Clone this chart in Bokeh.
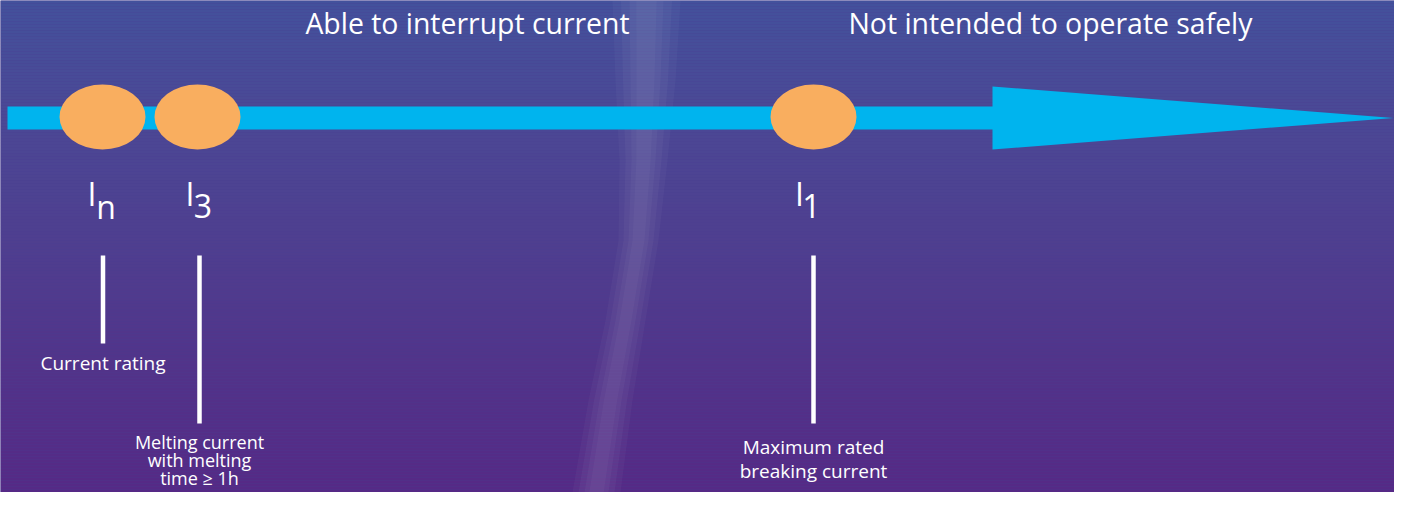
from bokeh.plotting import figure
from bokeh.models import Range1d
from bokeh.core.properties import value
from bokeh.embed import file_html
from bokeh.resources import INLINE

# ---------------- data ----------------
region_labels = ["Able to interrupt current", "Not intended to operate safely"]
region_x = [467, 1050]

point_main = ["I", "I", "I"]
point_sub = ["n", "3", "1"]
point_x = [102, 197, 813]          # position of each current on the arrow
main_x = [91.5, 189.5, 799]        # label placement
sub_x = [105.5, 202.5, 811]
line_x = [102.5, 199, 813]
line_end = [343, 423, 423]

descriptions = [
    ["Current rating"],
    ["Melting current", "with melting", "time \u2265 1h"],
    ["Maximum rated", "breaking current"],
]
desc_baselines = [
    [371],
    [449, 467, 485],
    [455, 479],
]
desc_sizes = [19, 18, 19]

FONT = "Open Sans"
W, H = 1394, 492

# ---------------- figure ----------------
p = figure(width=W, height=H, x_range=Range1d(0, W), y_range=Range1d(H, 0),
           output_backend="svg", toolbar_location=None, min_border=0,
           x_axis_location=None, y_axis_location=None)
p.grid.visible = False
p.outline_line_color = None
p.background_fill_color = "#4b3f90"
p.border_fill_color = "#4b3f90"

# background gradient
stops = [(0, (67, 81, 156)), (120, (75, 72, 149)), (250, (79, 62, 143)),
         (380, (82, 50, 137)), (508, (86, 40, 133))]

def bg(y):
    for (y0, c0), (y1, c1) in zip(stops[:-1], stops[1:]):
        if y0 <= y <= y1:
            t = (y - y0) / (y1 - y0)
            return "#%02x%02x%02x" % tuple(int(round(a + (b - a) * t)) for a, b in zip(c0, c1))
    return "#%02x%02x%02x" % stops[-1][1]

tops, bots, cols = [], [], []
for y in range(0, 510, 3):
    tops.append(y)
    bots.append(y + 3)
    cols.append(bg(y + 1.5))
p.quad(left=0, right=1410, top=tops, bottom=bots, fill_color=cols, line_color=None)

# faint soft light beam
beam_y = [0, 80, 160, 240, 320, 400, 492]
beam_c = [646, 645, 643, 638, 625, 610, 596]
beam_hw = [34, 30, 24, 20, 20, 22, 24]
for k, a in [(1.0, 0.03), (0.75, 0.035), (0.5, 0.035), (0.3, 0.03)]:
    xl = [c - w * k for c, w in zip(beam_c, beam_hw)]
    xr = [c + w * k for c, w in zip(beam_c, beam_hw)]
    p.patch(x=xl + xr[::-1], y=beam_y + beam_y[::-1],
            fill_color="white", fill_alpha=a, line_color=None)

# arrow
p.quad(left=7, right=993, top=106, bottom=129, fill_color="#00b4ee", line_color=None)
p.patch(x=[992, 992, 1393], y=[86, 149, 117.5], fill_color="#00b4ee", line_color=None)

# markers
p.ellipse(x=point_x, y=[116.5] * 3, width=86, height=65,
          fill_color="#f9ae5f", line_color=None)

# the svg text baseline sits ~0.44em lower than requested; compensate
def shift(size):
    return -0.44 * size

# region labels
p.text(x=region_x, y=[35 + shift(28.4)] * 2, text=region_labels, text_font=value(FONT),
       text_font_size="28.4px", text_color="white", text_align="center",
       text_baseline="alphabetic")

# current symbols
p.text(x=main_x, y=[207 + shift(32)] * 3, text=point_main, text_font=value(FONT),
       text_font_size="32px", text_color="white", text_align="center",
       text_baseline="alphabetic")
p.text(x=sub_x, y=[220 + shift(32)] * 3, text=point_sub, text_font=value(FONT),
       text_font_size="32px", text_color="white", text_align="center",
       text_baseline="alphabetic")

# leader lines
p.segment(x0=line_x, y0=[255] * 3, x1=line_x, y1=line_end,
          line_color="white", line_width=4.5, line_cap="butt")

# descriptions
for xc, bls, lines, fs in zip(line_x, desc_baselines, descriptions, desc_sizes):
    p.text(x=[xc] * len(lines), y=[b + shift(fs) for b in bls], text=lines,
           text_font=value(FONT), text_font_size=f"{fs}px",
           text_color="white", text_align="center", text_baseline="alphabetic")

open("out.html", "w").write(file_html(p, INLINE))
